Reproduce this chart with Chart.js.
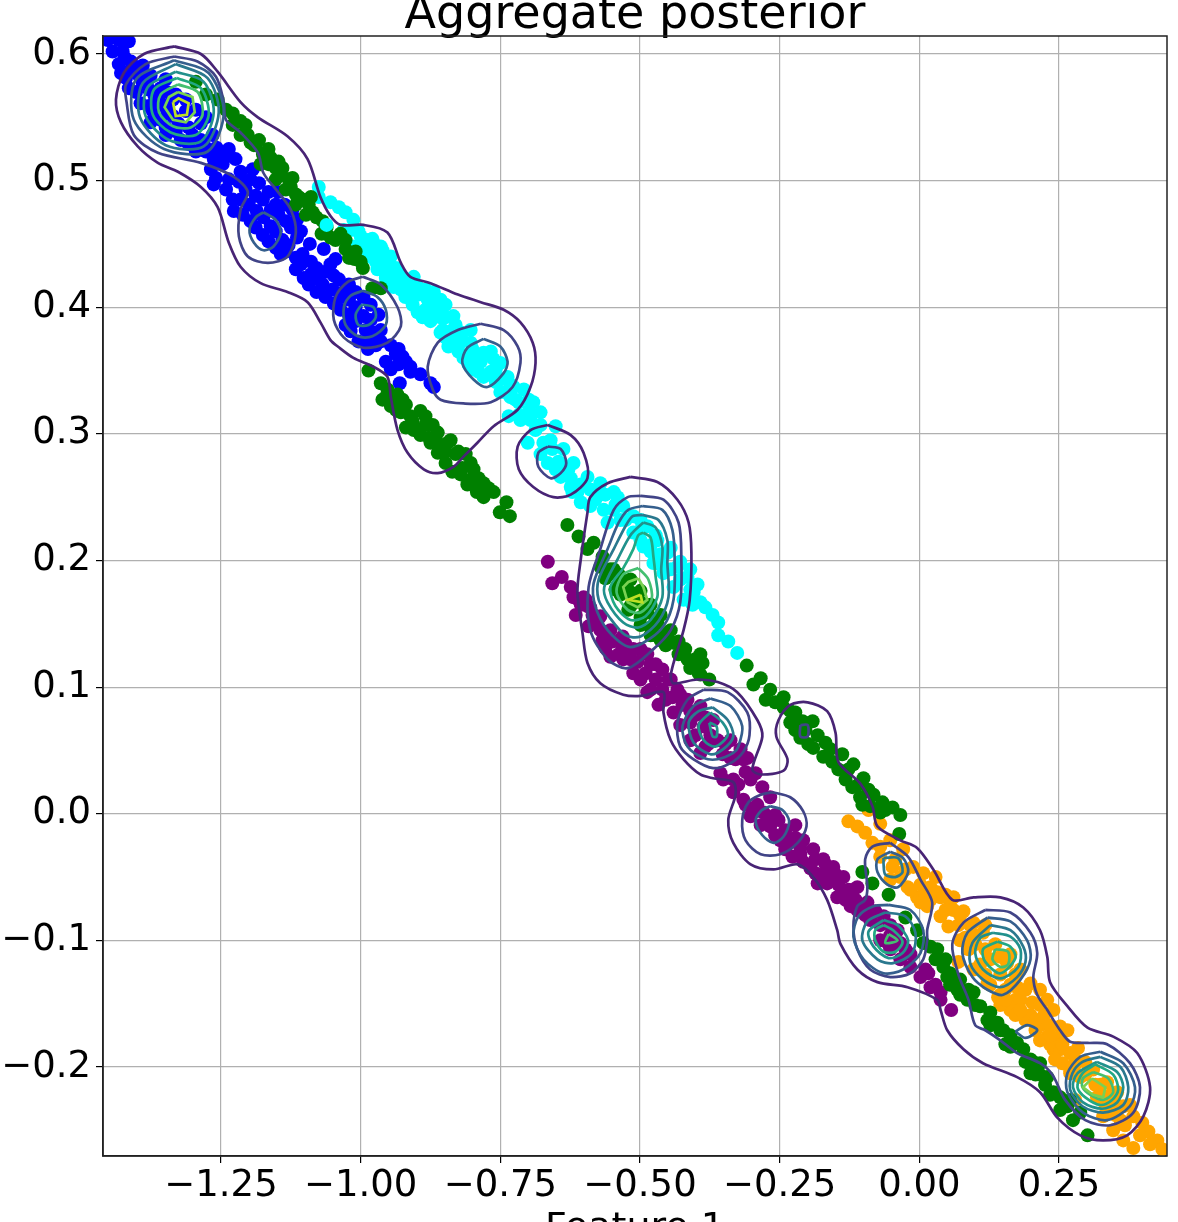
<!DOCTYPE html>
<html>
<head>
<meta charset="utf-8">
<title>Aggregate posterior</title>
<script src="https://cdn.jsdelivr.net/npm/chart.js@4/dist/chart.umd.min.js"></script>
<style>
  html, body { margin: 0; padding: 0; background: #fff; overflow: hidden; }
  canvas { display: block; }
</style>
</head>
<body>
<canvas id="myChart" width="1178" height="1222"></canvas>
<script>
// tick positions and labels
const xTickValues = [-1.25, -1.00, -0.75, -0.50, -0.25, 0.00, 0.25];
const yTickValues = [-0.2, -0.1, 0.0, 0.1, 0.2, 0.3, 0.4, 0.5, 0.6];

// latent points, one list per class
const bluePoints = [[-1.453,.611],[-1.433,.611],[-1.415,.610],[-1.444,.602],[-1.426,.602],[-1.433,.592],[-1.411,.594],[-1.390,.591],[-1.420,.581],[-1.397,.583],[-1.376,.583],[-1.402,.570],[-1.379,.572],[-1.358,.573],[-1.379,.559],[-1.358,.561],[-1.336,.564],[-1.358,.548],[-1.336,.551],[-1.313,.555],[-1.331,.539],[-1.308,.542],[-1.286,.545],[-1.308,.529],[-1.286,.532],[-1.265,.536],[-1.277,.523],[-1.258,.526],[-1.236,.525],[-1.268,.509],[-1.247,.513],[-1.224,.517],[-1.263,.497],[-1.236,.501],[-1.215,.507],[-1.193,.509],[-1.229,.485],[-1.206,.493],[-1.182,.498],[-1.148,.491],[-1.227,.476],[-1.200,.481],[-1.175,.485],[-1.152,.481],[-1.197,.468],[-1.174,.471],[-1.147,.473],[-1.122,.477],[-1.175,.457],[-1.152,.460],[-1.125,.463],[-1.107,.460],[-1.152,.447],[-1.129,.449],[-1.091,.450],[-1.066,.446],[-1.143,.442],[-1.116,.439],[-1.089,.436],[-1.045,.438],[-1.116,.430],[-1.089,.426],[-1.063,.428],[-1.093,.418],[-1.068,.418],[-1.039,.422],[-1.027,.414],[-1.063,.408],[-1.036,.408],[-1.009,.412],[-1.036,.398],[-1.009,.400],[-.982,.402],[-.995,.393],[-1.009,.389],[-.982,.390],[-1.027,.386],[-.964,.382],[-.977,.380],[-1.004,.373],[-.987,.367],[-.973,.370],[-.946,.370],[-.955,.357],[-.932,.367],[-.925,.361],[-.911,.353],[-.893,.347],[-.930,.340],[-.869,.337],[-.875,.340],[-.946,.351],[-.932,.355],
  [-1.422,.597],[-1.401,.588],[-1.383,.577],[-1.367,.566],[-1.347,.556],[-1.326,.545],[-1.301,.536],[-1.279,.527],[-1.254,.520],[-1.411,.588],[-1.390,.577],[-1.369,.567],[-1.347,.570],[-1.372,.555],[-1.349,.542],[-1.322,.532],[-1.295,.523],[-1.263,.517],[-1.241,.519],[-1.259,.502],[-1.241,.493],[-1.218,.499],[-1.197,.501],[-1.215,.485],[-1.188,.488],[-1.165,.491],[-1.211,.473],[-1.186,.476],[-1.161,.477],[-1.136,.481],[-1.188,.463],[-1.161,.464],[-1.134,.468],[-1.114,.469],[-1.165,.452],[-1.140,.453],[-1.114,.455],[-1.134,.444],[-1.104,.442],[-1.107,.434],[-1.079,.431],[-1.054,.434],[-1.102,.423],[-1.075,.422],[-1.048,.425],[-1.079,.412],[-1.050,.414],[-1.021,.418],[-1.048,.403],[-1.021,.406],[-.995,.408],[-1.021,.394],[-.968,.394],[-1.018,.381],[-.991,.382],[-.964,.373],[-.986,.374],[-.937,.363],[-.919,.357],[-.911,.349],
  [-1.429,.585],[-1.415,.573],[-1.394,.561],[-1.376,.546],[-1.349,.536],[-1.349,.580],[-1.331,.568],[-1.313,.564],[-1.295,.556],[-1.277,.550]];

const cyanPoints = [[-1.075,.495],[-1.075,.487],[-1.054,.483],[-1.027,.475],[-1.013,.469],[-1.030,.461],[-1.000,.456],[-1.013,.448],[-.977,.451],[-.987,.440],[-.946,.440],[-.964,.430],[-.934,.427],[-.946,.419],[-1.005,.443],[-.977,.448],[-.952,.435],[-.970,.430],[-.925,.424],[-.941,.416],[-.905,.424],[-.898,.416],[-.920,.408],[-.920,.418],[-.869,.412],[-.880,.406],[-.848,.402],[-.898,.396],[-.875,.390],[-.834,.393],[-.857,.380],[-.857,.398],[-.821,.380],[-.803,.382],[-.843,.369],[-.803,.372],[-.816,.360],[-.780,.364],[-.798,.351],[-.762,.359],[-.780,.345],[-.750,.356],[-.737,.345],[-.750,.333],[-.726,.337],[-.708,.335],[-.732,.329],[-.691,.325],[-.678,.317],[-.714,.311],[-.735,.314],[-.701,.293],[-.651,.306],[-.673,.293],[-.637,.288],[-.665,.277],[-.619,.277],[-.642,.266],[-.594,.266],[-.612,.254],[-.571,.261],[-.589,.243],[-.540,.250],[-.547,.254],[-.547,.240],[-.558,.230],[-.606,.246],[-.621,.254],[-.530,.243],[-.535,.232],[-.512,.235],[-.487,.227],[-.512,.222],[-.499,.216],[-.469,.216],[-.494,.211],[-.481,.207],[-.451,.206],[-.476,.198],[-.463,.197],[-.433,.195],[-.458,.190],[-.415,.187],[-.440,.179],[-.397,.181],[-.422,.169],[-.392,.167],[-.404,.175],[-.370,.157],[-.360,.151],[-.360,.141],[-.342,.136],[-.326,.127],
  [-1.039,.479],[-1.018,.461],[-.987,.453],[-.961,.445],[-.996,.445],[-.973,.436],[-.941,.430],[-.955,.423],[-.928,.414],[-.907,.408],[-.884,.414],[-.857,.406],[-.884,.398],[-.857,.392],[-.835,.382],[-.848,.376],[-.825,.370],[-.794,.360],[-.803,.357],[-.767,.349],[-.758,.341],[-.732,.339],[-.723,.327],[-.699,.318],[-.687,.303],[-.660,.295],[-.646,.278],[-.624,.265],[-.606,.260],[-.580,.248],[-.565,.240],[-.571,.252],[-.544,.244],[-.526,.232],[-.499,.224],[-.481,.212],[-.463,.205],[-.445,.193],[-.428,.185],[-.410,.177],[-.406,.165],[-.383,.163],
  [-1.004,.460],[-.979,.454],[-.991,.450],[-.964,.448],[-.979,.441],[-.950,.438],[-.964,.436],[-.937,.431],[-.950,.428],[-.919,.420],[-.934,.422],[-.911,.414],[-.896,.410],[-.907,.402],[-.878,.402],[-.889,.392],[-.866,.398],[-.875,.389],[-.848,.392],[-.853,.382],[-.830,.386],[-.835,.374],[-.818,.374],[-.825,.365],[-.800,.367],[-.807,.355],[-.785,.357],[-.789,.349],[-.767,.365],[-.758,.351],[-.771,.347],[-.750,.343],[-.741,.333],[-.717,.325],[-.699,.327],[-.717,.315],[-.696,.311],[-.678,.307],[-.678,.284],[-.657,.288],[-.651,.272],[-.628,.272],[-.624,.258],[-.589,.256],[-.562,.252],[-.499,.232],[-.472,.220],[-.445,.210],[-.428,.199],[-.410,.193]];
const cyanOverPoints = [[-1.061,.465]];

const greenPoints = [[-1.295,.578],[-1.277,.568],[-1.256,.564],[-1.241,.556],[-1.229,.544],[-1.215,.547],[-1.202,.536],[-1.215,.536],[-1.188,.528],[-1.175,.521],[-1.165,.525],[-1.157,.513],[-1.143,.505],[-1.147,.515],[-1.125,.495],[-1.111,.487],[-1.122,.502],[-1.093,.481],[-1.079,.471],[-1.089,.487],[-1.061,.463],[-1.045,.453],[-1.027,.446],[-1.011,.438],[-.996,.431],[-.979,.415],[-.964,.415],
  [-1.197,.530],[-1.179,.513],[-1.161,.518],[-1.140,.510],[-1.152,.501],[-1.134,.493],[-1.116,.481],[-1.098,.473],[-1.070,.458],[-1.036,.458],[-1.018,.439],
  [-1.229,.553],[-1.206,.544],[-1.182,.532],[-1.191,.528],[-1.165,.513],[-1.152,.510],[-1.116,.489],[-1.129,.501],[-1.104,.485],[-1.086,.475],[-1.068,.468],[-1.054,.455],[-1.027,.453],[-1.009,.444],[-1.021,.439],[-1.000,.436],
  [-.986,.350],[-.964,.340],[-.952,.335],[-.961,.327],[-.941,.325],[-.925,.327],[-.934,.331],[-.946,.322],[-.911,.314],[-.884,.314],[-.905,.303],[-.884,.307],[-.862,.301],[-.875,.293],[-.844,.293],[-.862,.285],[-.825,.286],[-.848,.277],[-.803,.277],[-.821,.268],[-.798,.272],[-.809,.260],[-.780,.261],[-.780,.250],[-.762,.254],[-.739,.246],[-.751,.238],[-.733,.235],
  [-.919,.305],[-.893,.299],[-.928,.317],[-.896,.303],[-.848,.286],[-.836,.270],[-.803,.264],[-.792,.254],
  [-.955,.329],[-.937,.319],[-.919,.323],[-.907,.310],[-.893,.318],[-.878,.297],[-.860,.292],[-.839,.295],[-.830,.284],[-.812,.284],[-.818,.273],[-.789,.265],[-.771,.257],[-.794,.260],[-.871,.307],
  [-.630,.228],[-.610,.219],[-.583,.214],[-.594,.209],[-.567,.203],[-.571,.195],[-.547,.193],[-.535,.182],[-.517,.175],[-.499,.167],[-.517,.185],[-.499,.176],[-.481,.165],[-.463,.157],[-.535,.173],[-.517,.164],[-.499,.155],[-.481,.147],[-.487,.159],[-.469,.151],[-.451,.143],[-.440,.135],[-.419,.130],[-.415,.122],[-.388,.119],[-.395,.111],[-.376,.106],[-.309,.117],[-.284,.107],[-.297,.102],[-.267,.098],[-.275,.090],[-.243,.092],[-.243,.084],[-.222,.080],[-.231,.072],[-.191,.073],[-.213,.060],[-.182,.062],[-.190,.052],[-.168,.056],[-.172,.045],[-.204,.066],[-.138,.047],[-.156,.041],[-.145,.035],[-.118,.039],[-.120,.021],[-.100,.028],[-.106,.013],[-.082,.015],[-.088,.006],[-.066,.009],[-.048,.005],[-.070,.001],[-.034,-.001],[-.036,-.016],[-.102,-.046],[-.084,-.055],[-.055,-.064],
  [-.556,.189],[-.472,.141],[-.454,.133],[-.431,.126],[-.410,.115],[-.392,.110],[-.258,.088],[-.231,.081],[-.209,.073],[-.222,.066],[-.199,.055],[-.159,.051],[-.127,.035],[-.132,.027],[-.109,.023],[-.091,.019],[-.102,.007],[-.061,.003],
  [-.553,.193],[-.562,.186],[-.538,.189],[-.526,.181],[-.544,.177],[-.508,.169],[-.521,.161],[-.490,.161],[-.499,.149],[-.472,.153],[-.481,.141],[-.445,.145],[-.463,.137],[-.431,.136],[-.401,.122],[-.392,.126],
  [-.025,-.082],[-.004,-.092],[.007,-.102],[.020,-.105],[.032,-.107],[.043,-.121],[.050,-.129],[.068,-.139],[.073,-.131],[.086,-.147],[.097,-.141],[.109,-.152],[.122,-.163],[.140,-.165],[.150,-.171],[.163,-.184],[.175,-.181],[.186,-.186],[.204,-.196],[.199,-.205],[.216,-.197],[.229,-.208],[.240,-.220],[.252,-.224],[.265,-.231],[.275,-.242],[.288,-.236],[.301,-.254],
  [.055,-.126],[.047,-.115],[.088,-.139],[.100,-.151],[.127,-.157],[.145,-.171],[.154,-.182],[.190,-.196],[.208,-.206],[.225,-.214],[.252,-.234],[.270,-.226],
  [.029,-.115],[.055,-.135],[.073,-.143],[.127,-.167],[.163,-.175],[.199,-.194],[.216,-.206],[.234,-.222]];

const purplePoints = [[-.665,.199],[-.657,.182],[-.640,.187],[-.624,.179],[-.619,.171],[-.601,.171],[-.615,.157],[-.594,.164],[-.592,.148],[-.571,.156],[-.567,.137],[-.553,.145],[-.553,.124],[-.531,.140],[-.530,.122],[-.512,.130],[-.512,.111],[-.487,.126],[-.490,.111],[-.487,.096],[-.460,.114],[-.460,.098],[-.467,.086],[-.433,.098],[-.440,.080],[-.415,.090],[-.410,.072],[-.392,.085],[-.386,.069],[-.392,.048],[-.369,.074],[-.361,.058],[-.338,.058],[-.320,.051],[-.308,.044],[-.356,.032],[-.351,.027],[-.333,.027],[-.315,.043],[-.293,.032],[-.281,.021],[-.267,.013],[-.333,.017],[-.315,.011],[-.302,-.002],[-.279,.001],[-.290,.007],[-.267,-.010],[-.270,-.003],[-.252,-.005],[-.249,-.021],[-.222,-.009],[-.227,-.034],[-.208,-.021],[-.190,-.028],[-.208,-.038],[-.172,-.036],[-.182,-.055],[-.186,-.047],[-.154,-.042],[-.165,-.055],[-.147,-.066],[-.136,-.050],[-.118,-.060],[-.123,-.073],[-.093,-.070],[-.111,-.058],[-.111,-.076],[-.088,-.084],[-.064,-.081],[-.070,-.100],[-.052,-.088],[-.052,-.107],[-.039,-.092],[-.034,-.102],[-.034,-.115],[-.016,-.121],[.002,-.129],[.016,-.126],[.020,-.137],[.038,-.141],[.057,-.155],[.038,-.147],
  [-.606,.165],[-.585,.157],[-.571,.145],[-.549,.136],[-.531,.130],[-.526,.134],[-.504,.120],[-.481,.118],[-.472,.106],[-.449,.106],[-.442,.092],[-.424,.086],[-.401,.078],[-.383,.076],[-.374,.062],[-.410,.058],[-.383,.053],[-.352,.047],[-.338,.044],[-.311,.033],[-.302,.027],[-.324,.023],[-.311,.007],[-.293,.002],[-.284,-.009],[-.258,-.017],[-.231,-.021],[-.240,-.028],[-.213,-.032],[-.186,-.036],[-.195,-.043],[-.168,-.047],[-.145,-.056],[-.127,-.060],[-.132,-.068],[-.097,-.080],[-.079,-.077],[-.070,-.088],[-.052,-.096],[-.025,-.107],[-.016,-.111],[.011,-.123],[.029,-.135],
  [-.597,.169],[-.610,.169],[-.589,.163],[-.576,.152],[-.556,.141],[-.562,.131],[-.538,.126],[-.517,.122],[-.499,.130],[-.499,.106],[-.481,.098],[-.472,.118],[-.454,.090],[-.445,.106],[-.428,.094],[-.410,.081],[-.428,.070],[-.401,.062],[-.378,.055],[-.347,.055],[-.329,.043],[-.258,-.001],[-.240,-.013],[-.222,-.019],[-.213,-.027],[-.168,-.040],[-.168,-.052],[-.150,-.048],[-.141,-.064],[-.114,-.068],[-.106,-.077],[-.055,-.103]];

const orangePoints = [[-.127,-.006],[-.111,-.010],[-.097,-.015],[-.091,.003],[-.070,-.008],[-.084,-.023],[-.052,-.021],[-.070,-.026],[-.029,-.028],[-.048,-.042],[-.070,-.034],[-.034,-.050],[-.011,-.042],[-.021,-.058],[.007,-.047],[.029,-.050],[-.004,-.066],[.020,-.058],[.014,-.073],[.038,-.066],[.038,-.081],[.055,-.073],[-.016,-.060],[.002,-.070],[.032,-.062],[.061,-.066],[.061,-.076],[.079,-.077],[.052,-.089],[.097,-.086],[.073,-.100],[.070,-.117],[.114,-.094],[.100,-.103],[.118,-.107],[.145,-.113],[.097,-.123],[.122,-.134],[.157,-.118],[.181,-.123],[.141,-.145],[.175,-.137],[.199,-.134],[.216,-.139],[.163,-.155],[.172,-.147],[.145,-.151],[.202,-.149],[.216,-.151],[.229,-.147],[.240,-.155],[.190,-.163],[.222,-.160],[.252,-.168],[.265,-.171],[.229,-.176],[.252,-.176],[.284,-.185],[.240,-.186],[.270,-.189],[.256,-.197],[.297,-.196],[.279,-.198],[.311,-.202],[.336,-.212],[.324,-.214],[.354,-.220],[.318,-.224],[.279,-.226],[.365,-.231],[.329,-.239],[.351,-.238],[.383,-.239],[.347,-.250],[.399,-.244],[.365,-.258],[.383,-.264],[.410,-.251],[.426,-.258],[.435,-.265],[.270,-.205],[.288,-.208],
  [-.043,-.036],[-.025,-.044],[-.052,-.052],[.002,-.056],[.011,-.064],[.047,-.064],[.047,-.076],[.091,-.088],[.082,-.098],[.118,-.088],[.136,-.103],[.163,-.111],[.109,-.119],[.145,-.127],[.172,-.127],[.127,-.135],[.154,-.139],[.154,-.147],[.181,-.147],[.172,-.159],[.199,-.159],[.216,-.167],[.208,-.171],[.234,-.182],[.216,-.179],[.252,-.186],[.279,-.194],[.243,-.194],[.270,-.202],[.315,-.214],[.342,-.222],[.333,-.230],[.360,-.242],[.368,-.246],[.395,-.254],[.413,-.261],
  [.020,-.068],[.070,-.088],[.073,-.080],[.100,-.096],[.088,-.107],[.127,-.115],[.118,-.127],[.163,-.135],[.190,-.139],[.145,-.143],[.181,-.155],[.208,-.163],[.234,-.167],[.234,-.175],[.256,-.182],[.297,-.206],[.324,-.222],[.351,-.230],[.377,-.230]];

// density contours, traced level by level
const outerUpper = [[-1.334,.606],[-1.286,.600],[-1.256,.586],[-1.215,.562],[-1.184,.550],[-1.131,.535],[-1.095,.517],[-1.072,.487],[-1.054,.472],[-1.036,.465],[-.995,.465],[-.952,.459],[-.928,.435],[-.911,.424],[-.875,.419],[-.826,.410],[-.785,.404],[-.744,.398],[-.714,.388],[-.692,.372],[-.687,.356],[-.696,.337],[-.719,.319],[-.762,.306],[-.791,.293],[-.816,.282],[-.834,.274],[-.862,.269],[-.887,.272],[-.916,.285],[-.934,.303],[-.946,.329],[-.952,.345],[-.977,.353],[-1.013,.360],[-1.041,.369],[-1.054,.374],[-1.072,.388],[-1.095,.404],[-1.131,.412],[-1.179,.419],[-1.215,.432],[-1.236,.451],[-1.256,.479],[-1.286,.495],[-1.327,.507],[-1.363,.514],[-1.399,.527],[-1.429,.546],[-1.438,.564],[-1.424,.585],[-1.388,.600],[-1.334,.606]];
const outerLower = [[-.517,.266],[-.469,.262],[-.433,.248],[-.413,.230],[-.408,.206],[-.411,.169],[-.422,.145],[-.440,.119],[-.445,.108],[-.440,.103],[-.397,.106],[-.361,.104],[-.326,.096],[-.290,.074],[-.281,.061],[-.299,.035],[-.284,.031],[-.243,.034],[-.236,.043],[-.256,.061],[-.252,.074],[-.231,.086],[-.200,.088],[-.165,.081],[-.150,.064],[-.145,.041],[-.106,.024],[-.084,.006],[-.075,-.010],[-.034,-.021],[-.004,-.027],[.025,-.044],[.059,-.068],[.097,-.066],[.145,-.066],[.186,-.074],[.216,-.092],[.229,-.113],[.234,-.133],[.265,-.152],[.301,-.169],[.347,-.176],[.390,-.189],[.413,-.216],[.401,-.239],[.372,-.254],[.329,-.258],[.288,-.254],[.247,-.240],[.216,-.220],[.175,-.208],[.114,-.197],[.079,-.186],[.050,-.171],[.038,-.155],[.032,-.147],[-.021,-.137],[-.075,-.133],[-.111,-.123],[-.141,-.103],[-.147,-.092],[-.165,-.068],[-.190,-.050],[-.218,-.040],[-.261,-.044],[-.302,-.040],[-.333,-.023],[-.342,-.005],[-.329,.015],[-.333,.025],[-.369,.028],[-.392,.031],[-.422,.043],[-.445,.058],[-.458,.080],[-.458,.096],[-.499,.093],[-.530,.094],[-.571,.103],[-.594,.119],[-.603,.143],[-.612,.175],[-.606,.201],[-.594,.238],[-.589,.250],[-.558,.261],[-.517,.266]];
const circleCyanMid1 = [[-.665,.307],[-.624,.299],[-.601,.285],[-.594,.265],[-.624,.252],[-.655,.250],[-.691,.258],[-.717,.272],[-.719,.290],[-.696,.303],[-.665,.307]];

const headBlob2 = [[-1.334,.598],[-1.292,.594],[-1.259,.582],[-1.245,.562],[-1.241,.548],[-1.215,.538],[-1.184,.522],[-1.174,.506],[-1.148,.491],[-1.125,.477],[-1.116,.459],[-1.131,.440],[-1.166,.435],[-1.202,.440],[-1.218,.456],[-1.215,.477],[-1.202,.491],[-1.227,.503],[-1.286,.514],[-1.363,.522],[-1.406,.536],[-1.419,.562],[-1.420,.576],[-1.385,.592],[-1.334,.598]];
const blueRing2 = [[-.996,.424],[-.964,.418],[-.934,.400],[-.928,.385],[-.952,.372],[-.995,.368],[-1.030,.376],[-1.048,.390],[-1.045,.408],[-1.023,.420],[-.996,.424]];
const cyanRing2 = [[-.785,.387],[-.744,.382],[-.719,.369],[-.714,.356],[-.728,.337],[-.767,.325],[-.816,.324],[-.857,.327],[-.871,.335],[-.880,.353],[-.862,.372],[-.826,.382],[-.785,.387]];
const cyanMidInner = [[-.665,.290],[-.642,.288],[-.632,.277],[-.642,.269],[-.660,.265],[-.682,.274],[-.682,.285],[-.665,.290]];
const greenTiny = [[-.213,.070],[-.200,.070],[-.200,.061],[-.213,.061],[-.213,.070]];
const centre2 = [[-.499,.251],[-.458,.248],[-.431,.230],[-.426,.201],[-.428,.167],[-.445,.145],[-.476,.130],[-.522,.115],[-.558,.122],[-.589,.145],[-.592,.179],[-.571,.209],[-.547,.240],[-.522,.250],[-.499,.251]];
const purple2 = [[-.386,.098],[-.343,.096],[-.308,.080],[-.304,.062],[-.315,.049],[-.338,.040],[-.369,.036],[-.404,.043],[-.428,.053],[-.433,.072],[-.415,.090],[-.386,.098]];
const spot2 = [[-.263,.017],[-.231,.013],[-.208,.002],[-.202,-.010],[-.218,-.023],[-.249,-.032],[-.284,-.032],[-.311,-.021],[-.317,-.005],[-.306,.009],[-.284,.015],[-.263,.017]];
const orangePurple2 = [[-.052,-.023],[-.020,-.034],[.002,-.052],[.023,-.070],[.014,-.092],[.014,-.100],[.007,-.115],[-.016,-.126],[-.052,-.129],[-.088,-.123],[-.111,-.107],[-.118,-.089],[-.111,-.073],[-.097,-.068],[-.093,-.058],[-.097,-.036],[-.084,-.026],[-.052,-.023]];
const tail2 = [[.118,-.076],[.163,-.078],[.199,-.094],[.211,-.110],[.204,-.129],[.211,-.143],[.229,-.155],[.252,-.171],[.270,-.180],[.301,-.181],[.336,-.182],[.377,-.197],[.395,-.216],[.383,-.236],[.342,-.246],[.297,-.242],[.261,-.226],[.238,-.206],[.216,-.197],[.175,-.189],[.145,-.179],[.118,-.171],[.100,-.167],[.088,-.147],[.070,-.127],[.059,-.103],[.079,-.086],[.118,-.076]];

const headL3 = [[-1.334,.595],[-1.272,.585],[-1.245,.554],[-1.274,.523],[-1.352,.525],[-1.406,.548],[-1.402,.580],[-1.334,.595]];
const blobL3 = [[-1.174,.475],[-1.152,.469],[-1.143,.459],[-1.156,.448],[-1.174,.445],[-1.191,.451],[-1.199,.461],[-1.188,.471],[-1.174,.475]];
const blueRing3 = [[-.996,.413],[-.970,.408],[-.955,.398],[-.955,.386],[-.979,.377],[-1.005,.377],[-1.027,.386],[-1.030,.400],[-1.018,.409],[-.996,.413]];
const cyanRing3 = [[-.780,.375],[-.750,.369],[-.737,.357],[-.744,.348],[-.773,.337],[-.798,.343],[-.818,.356],[-.809,.368],[-.780,.375]];
const centre3 = [[-.496,.243],[-.460,.240],[-.442,.224],[-.438,.201],[-.440,.169],[-.458,.148],[-.494,.135],[-.522,.132],[-.558,.145],[-.580,.164],[-.583,.182],[-.558,.209],[-.538,.230],[-.521,.240],[-.496,.243]];
const purple3 = [[-.374,.091],[-.338,.085],[-.317,.069],[-.324,.053],[-.333,.048],[-.361,.043],[-.386,.044],[-.415,.053],[-.424,.069],[-.404,.085],[-.374,.091]];
const spot3 = [[-.267,.006],[-.245,.003],[-.233,-.006],[-.243,-.018],[-.261,-.023],[-.281,-.017],[-.293,-.006],[-.284,.002],[-.267,.006]];
const orangeSpot3 = [[-.052,-.030],[-.029,-.035],[-.020,-.046],[-.038,-.058],[-.057,-.056],[-.075,-.046],[-.075,-.036],[-.052,-.030]];
const lowPurple3 = [[-.055,-.072],[-.016,-.076],[.007,-.092],[.002,-.110],[-.029,-.123],[-.064,-.126],[-.100,-.115],[-.118,-.097],[-.109,-.081],[-.082,-.073],[-.055,-.072]];
const diamond3 = [[.172,-.172],[.193,-.167],[.211,-.171],[.190,-.177],[.172,-.172]];
const tailBlob3 = [[.122,-.082],[.163,-.085],[.193,-.100],[.199,-.115],[.181,-.131],[.150,-.143],[.122,-.139],[.095,-.129],[.077,-.110],[.086,-.094],[.122,-.082]];
const endBlob3 = [[.324,-.188],[.365,-.197],[.386,-.216],[.377,-.231],[.336,-.242],[.293,-.236],[.265,-.220],[.265,-.205],[.288,-.192],[.324,-.188]];

const headL4 = [[-1.331,.592],[-1.274,.581],[-1.254,.554],[-1.281,.527],[-1.349,.528],[-1.395,.550],[-1.390,.577],[-1.331,.592]];
const blueRing4 = [[-.996,.402],[-.977,.400],[-.973,.392],[-.986,.386],[-1.004,.386],[-1.009,.394],[-1.000,.401],[-.996,.402]];
const centre4 = [[-.496,.236],[-.467,.232],[-.451,.216],[-.451,.198],[-.449,.171],[-.467,.152],[-.499,.140],[-.526,.141],[-.556,.156],[-.574,.169],[-.574,.185],[-.547,.209],[-.526,.227],[-.513,.235],[-.496,.236]];
const purple4 = [[-.370,.084],[-.343,.074],[-.333,.061],[-.351,.051],[-.374,.047],[-.404,.056],[-.413,.072],[-.395,.081],[-.370,.084]];
const orangeSpot4 = [[-.064,-.035],[-.038,-.035],[-.030,-.046],[-.043,-.050],[-.061,-.048],[-.064,-.040],[-.064,-.035]];
const lowPurple4 = [[-.061,-.078],[-.025,-.081],[-.007,-.094],[-.013,-.110],[-.047,-.118],[-.075,-.115],[-.102,-.100],[-.093,-.085],[-.061,-.078]];
const tailBlob4 = [[.127,-.088],[.163,-.092],[.186,-.105],[.190,-.117],[.175,-.129],[.145,-.137],[.114,-.131],[.091,-.118],[.095,-.102],[.127,-.088]];
const endBlob4 = [[.324,-.192],[.360,-.200],[.374,-.216],[.365,-.230],[.329,-.236],[.292,-.231],[.270,-.218],[.274,-.205],[.292,-.196],[.324,-.192]];

const headL5 = [[-1.331,.586],[-1.281,.578],[-1.263,.554],[-1.286,.531],[-1.343,.532],[-1.385,.551],[-1.381,.574],[-1.331,.586]];
const centre5 = [[-.494,.230],[-.472,.226],[-.460,.211],[-.462,.193],[-.460,.171],[-.481,.153],[-.504,.147],[-.530,.151],[-.558,.167],[-.564,.179],[-.540,.201],[-.517,.220],[-.494,.230]];
const purple5 = [[-.374,.080],[-.352,.072],[-.343,.062],[-.365,.053],[-.386,.058],[-.395,.070],[-.374,.080]];
const purpleInner5 = [[-.376,.072],[-.363,.069],[-.363,.061],[-.370,.061],[-.376,.072]];
const lowPurple5 = [[-.064,-.084],[-.039,-.088],[-.020,-.100],[-.030,-.110],[-.055,-.114],[-.082,-.105],[-.091,-.093],[-.064,-.084]];
const tailBlob5 = [[.132,-.094],[.163,-.097],[.181,-.107],[.177,-.121],[.145,-.130],[.114,-.123],[.100,-.110],[.109,-.098],[.132,-.094]];
const endBlob5 = [[.318,-.196],[.354,-.204],[.365,-.216],[.354,-.228],[.327,-.233],[.293,-.228],[.275,-.216],[.283,-.205],[.318,-.196]];

const headL6 = [[-1.329,.581],[-1.286,.573],[-1.272,.552],[-1.295,.536],[-1.340,.538],[-1.372,.552],[-1.370,.572],[-1.329,.581]];
const centre6 = [[-.494,.222],[-.481,.218],[-.476,.203],[-.472,.187],[-.469,.171],[-.490,.156],[-.517,.153],[-.544,.164],[-.553,.179],[-.530,.194],[-.512,.209],[-.503,.220],[-.494,.222]];
const lowPurple6 = [[-.064,-.088],[-.047,-.092],[-.030,-.101],[-.043,-.109],[-.064,-.109],[-.079,-.100],[-.079,-.092],[-.064,-.088]];
const tailBlob6 = [[.140,-.101],[.163,-.105],[.172,-.114],[.145,-.126],[.118,-.117],[.114,-.107],[.140,-.101]];
const endBlob6 = [[.315,-.198],[.347,-.206],[.356,-.218],[.345,-.226],[.324,-.230],[.297,-.224],[.283,-.216],[.292,-.205],[.315,-.198]];

const headL7 = [[-1.327,.576],[-1.292,.570],[-1.283,.552],[-1.304,.542],[-1.336,.543],[-1.361,.554],[-1.358,.568],[-1.327,.576]];
const centre7 = [[-.503,.194],[-.485,.185],[-.479,.169],[-.499,.159],[-.522,.161],[-.542,.175],[-.530,.189],[-.503,.194]];
const lowPurple7 = [[-.055,-.095],[-.039,-.100],[-.061,-.102],[-.055,-.095]];
const tailBlob7 = [[.136,-.107],[.159,-.109],[.159,-.119],[.145,-.121],[.131,-.115],[.136,-.107]];
const endBlob7 = [[.311,-.204],[.338,-.209],[.347,-.220],[.329,-.226],[.306,-.222],[.292,-.216],[.293,-.209],[.311,-.204]];

const headL8 = [[-1.327,.570],[-1.301,.566],[-1.297,.554],[-1.313,.546],[-1.336,.548],[-1.351,.558],[-1.343,.566],[-1.327,.570]];
const centre8 = [[-.503,.186],[-.494,.179],[-.487,.169],[-.504,.163],[-.522,.167],[-.530,.179],[-.521,.183],[-.503,.186]];
const endBlob8 = [[.309,-.209],[.333,-.216],[.329,-.224],[.311,-.222],[.293,-.216],[.309,-.209]];

const headL9 = [[-1.336,.562],[-1.326,.565],[-1.308,.561],[-1.311,.552],[-1.331,.551],[-1.336,.562]];
const centre9 = [[-.499,.173],[-.496,.167],[-.521,.169],[-.499,.173]];

const levelColors = ['#482475', '#414487', '#355f8d', '#2a788e', '#21918c', '#22a884', '#44bf70', '#7ad151', '#bddf26'];
const contourLevels = [
  [outerUpper, outerLower, circleCyanMid1],
  [headBlob2, blueRing2, cyanRing2, cyanMidInner, greenTiny, centre2, purple2, spot2, orangePurple2, tail2],
  [headL3, blobL3, blueRing3, cyanRing3, centre3, purple3, spot3, orangeSpot3, lowPurple3, diamond3, tailBlob3, endBlob3],
  [headL4, blueRing4, centre4, purple4, orangeSpot4, lowPurple4, tailBlob4, endBlob4],
  [headL5, centre5, purple5, purpleInner5, lowPurple5, tailBlob5, endBlob5],
  [headL6, centre6, lowPurple6, tailBlob6, endBlob6],
  [headL7, centre7, lowPurple7, tailBlob7, endBlob7],
  [headL8, centre8, endBlob8],
  [headL9, centre9]
];

const scatterSeries = [
  { data: bluePoints, color: '#0000ff' },
  { data: cyanPoints, color: '#00ffff' },
  { data: purplePoints, color: '#800080' },
  { data: orangePoints, color: '#ffa500' },
  { data: greenPoints, color: '#008000' },
  { data: cyanOverPoints, color: '#00ffff' }
];

const fontName = '"DejaVu Sans", sans-serif';
const datasets = [];

// chart.js paints high "order" first, so points go under the contours
scatterSeries.forEach((s, i) => {
  datasets.push({
    data: s.data,
    showLine: false,
    pointRadius: 7,
    pointBorderWidth: 0,
    pointBackgroundColor: s.color,
    order: 100 - i
  });
});

contourLevels.forEach((level, i) => {
  level.forEach(line => {
    datasets.push({
      data: line,
      showLine: true,
      fill: false,
      pointRadius: 0,
      borderColor: levelColors[i],
      borderWidth: 2.7,
      tension: i < 7 ? 0.3 : 0,
      order: 50 - i
    });
  });
});

// matplotlib draws a box round the axes, chart.js only has the two scale borders
const frame = {
  id: 'frame',
  afterDraw(chart) {
    const { ctx, chartArea: a } = chart;
    ctx.save();
    ctx.strokeStyle = '#222';
    ctx.lineWidth = 1.5;
    ctx.strokeRect(a.left, a.top, a.right - a.left, a.bottom - a.top);
    ctx.restore();
  }
};

new Chart(document.getElementById('myChart').getContext('2d'), {
  type: 'scatter',
  data: { datasets: datasets },
  plugins: [frame],
  options: {
    responsive: false,
    animation: false,
    layout: { padding: { right: 11 } },
    plugins: {
      legend: { display: false },
      tooltip: { enabled: false },
      title: {
        display: true,
        fullSize: false,
        text: 'Aggregate posterior',
        color: '#000',
        font: { family: fontName, size: 46, weight: 'normal' },
        padding: { top: -12, bottom: -7.2 }
      }
    },
    scales: {
      x: {
        type: 'linear',
        min: -1.4612,
        max: 0.4433,
        afterFit(scale) { scale.height = 66; },
        afterBuildTicks(scale) { scale.ticks = xTickValues.map(v => ({ value: v })); },
        grid: { color: '#b0b0b0', lineWidth: 1.2, tickColor: '#000', tickLength: 7 },
        border: { color: '#222', width: 1.5 },
        ticks: {
          color: '#000',
          maxRotation: 0,
          autoSkip: false,
          padding: 1,
          font: { family: fontName, size: 37 },
          callback: v => v.toFixed(2).replace('-', '\u2212')
        },
        title: {
          display: true,
          text: 'Feature 1',
          color: '#000',
          font: { family: fontName, size: 38 },
          padding: { top: 0, bottom: -30 }
        }
      },
      y: {
        type: 'linear',
        min: -0.2703,
        max: 0.6142,
        afterFit(scale) { scale.width = 103; },
        afterBuildTicks(scale) { scale.ticks = yTickValues.map(v => ({ value: v })); },
        grid: { color: '#b0b0b0', lineWidth: 1.2, tickColor: '#000', tickLength: 7 },
        border: { color: '#222', width: 1.5 },
        ticks: {
          color: '#000',
          autoSkip: false,
          padding: 5,
          font: { family: fontName, size: 37 },
          callback: v => v.toFixed(1).replace('-', '\u2212')
        }
      }
    }
  }
});
</script>
</body>
</html>
